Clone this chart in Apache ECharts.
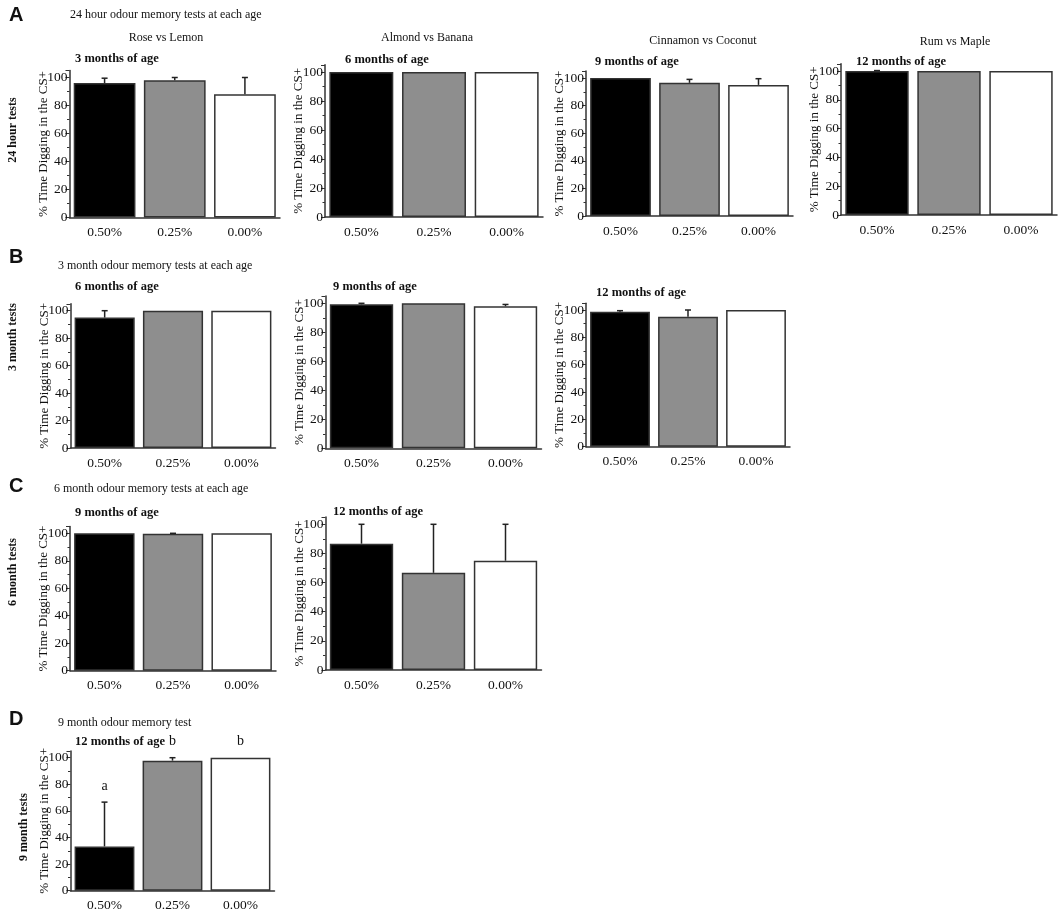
<!DOCTYPE html>
<html><head><meta charset="utf-8">
<script src="https://cdn.jsdelivr.net/npm/echarts@6/dist/echarts.min.js"></script>
<style>html,body{margin:0;padding:0;background:#fff}#c{width:1063px;height:912px}</style>
</head><body><div id="c"></div>
<script>
// ---- data ----
const categories = ['0.50%', '0.25%', '0.00%'];
const yTicks = [0, 20, 40, 60, 80, 100];
const barColors = ['#000000', '#8e8e8e', '#ffffff'];
// means (% time digging in the CS+) and upper error (SEM)
const a1Mean = [96, 98, 88],      a1Err = [3.5, 2, 12];
const a2Mean = [100, 100, 100],   a2Err = [0, 0, 0];
const a3Mean = [100, 96.5, 95],   a3Err = [0, 2.5, 4.5];
const a4Mean = [100, 100, 100],   a4Err = [0.3, 0, 0];
const b1Mean = [95, 100, 100],    b1Err = [5, 0, 0];
const b2Mean = [99.3, 100, 98],   b2Err = [0.7, 0, 1.2];
const b3Mean = [98.8, 95, 100],   b3Err = [0.7, 5, 0];
const c1Mean = [100, 99.6, 100],  c1Err = [0, 0.4, 0];
const c2Mean = [86.7, 66.7, 75],  c2Err = [13.3, 33.3, 25];
const d1Mean = [33.3, 97.8, 100], d1Err = [33.3, 2.2, 0];
const d1Letters = ['a', 'b', 'b'];

// ---- layout (pixels): left, width, y of 0, y of 100 ----
const panels = [
  {mean: a1Mean, err: a1Err, left: 69.5, width: 210.5, y0: 217.5, y100: 77.5},
  {mean: a2Mean, err: a2Err, left: 325,  width: 218,   y0: 217,   y100: 72},
  {mean: a3Mean, err: a3Err, left: 586,  width: 207,   y0: 216,   y100: 78},
  {mean: a4Mean, err: a4Err, left: 841,  width: 216,   y0: 215,   y100: 71},
  {mean: b1Mean, err: b1Err, left: 70.5, width: 205,   y0: 448,   y100: 310.7},
  {mean: b2Mean, err: b2Err, left: 325.5,width: 216,   y0: 448.3, y100: 303.3},
  {mean: b3Mean, err: b3Err, left: 586,  width: 204,   y0: 446.7, y100: 310},
  {mean: c1Mean, err: c1Err, left: 70,   width: 206,   y0: 670.7, y100: 533.3},
  {mean: c2Mean, err: c2Err, left: 325.5,width: 216,   y0: 670,   y100: 524.3},
  {mean: d1Mean, err: d1Err, left: 70.5, width: 204,   y0: 890.7, y100: 757.7, letters: d1Letters}
];

const SERIF = 'Liberation Serif';
const AX = '#333';
const grids = [], xAxes = [], yAxes = [], series = [];
const YMAX = 105;

panels.forEach((p, k) => {
  const h = (p.y0 - p.y100) * YMAX / 100;
  grids.push({left: p.left, top: p.y0 - h, width: p.width, height: h, containLabel: false, outerBoundsMode: 'none'});
  xAxes.push({
    gridIndex: k, type: 'category', data: categories,
    axisLine: {lineStyle: {color: AX, width: 1.5}},
    axisTick: {alignWithLabel: true, length: 3, lineStyle: {color: AX}},
    axisLabel: {fontFamily: SERIF, fontSize: 13.5, color: '#111', margin: 8}
  });
  yAxes.push({
    gridIndex: k, type: 'value', min: yTicks[0], max: YMAX, interval: yTicks[1] - yTicks[0],
    name: '% Time Digging in the CS+', nameLocation: 'middle', nameGap: 19.5, nameMoveOverlap: false,
    nameTextStyle: {fontFamily: SERIF, fontSize: 13, color: '#111'},
    axisLine: {show: true, lineStyle: {color: AX, width: 1.5}},
    axisTick: {show: true, length: 4, lineStyle: {color: AX}},
    minorTick: {show: true, splitNumber: 2, length: 2.5, lineStyle: {color: AX}},
    splitLine: {show: false},
    axisLabel: {fontFamily: SERIF, fontSize: 13.5, color: '#111', margin: 2, showMaxLabel: false,
      formatter: v => (yTicks.indexOf(v) >= 0 ? String(v) : '')}
  });
  series.push({
    type: 'bar', xAxisIndex: k, yAxisIndex: k, barCategoryGap: '12%',
    data: p.mean.map((v, i) => ({value: v, itemStyle: {color: barColors[i], borderColor: '#333', borderWidth: 1.5}})),
    silent: true, animation: false
  });
  const letters = p.letters;
  series.push({
    type: 'custom', xAxisIndex: k, yAxisIndex: k, z: 5, animation: false, silent: true,
    data: p.mean.map((v, i) => [i, v, p.err[i]]),
    encode: {x: 0, y: 1},
    renderItem: (params, api) => {
      const i = api.value(0), v = api.value(1), e = api.value(2);
      const b = api.coord([i, v]);
      const t = api.coord([i, v + e]);
      const ch = [];
      if (e > 0) {
        ch.push({type: 'line', shape: {x1: b[0], y1: b[1], x2: t[0], y2: t[1]}, style: {stroke: '#222', lineWidth: 1.5}});
        ch.push({type: 'line', shape: {x1: t[0] - 3, y1: t[1], x2: t[0] + 3, y2: t[1]}, style: {stroke: '#222', lineWidth: 1.5}});
      }
      if (letters) {
        ch.push({type: 'text', x: t[0], y: t[1] - 9, style: {text: letters[params.dataIndex], fontFamily: SERIF, fontSize: 14, fill: '#111', align: 'center', verticalAlign: 'bottom'}});
      }
      return {type: 'group', children: ch};
    }
  });
});

function txt(x, y, s, opt) {
  return {type: 'text', x: x, y: y, style: Object.assign({text: s, fontFamily: SERIF, fontSize: 12, fill: '#111', align: 'left', verticalAlign: 'middle'}, opt || {})};
}
function rot(x, y, s) {
  return {type: 'text', x: x, y: y, rotation: Math.PI / 2, style: {text: s, fontFamily: SERIF, fontSize: 12, fontWeight: 'bold', fill: '#111', align: 'center', verticalAlign: 'middle'}};
}
const bold = {fontWeight: 'bold', fontSize: 12.5};
const panelLetter = {fontFamily: 'Liberation Sans', fontWeight: 'bold', fontSize: 20};
const graphics = [
  txt(9, 15, 'A', panelLetter),
  txt(70, 15, '24 hour odour memory tests at each age'),
  txt(166, 38, 'Rose vs Lemon', {align: 'center'}),
  txt(427, 38, 'Almond vs Banana', {align: 'center'}),
  txt(703, 41, 'Cinnamon vs Coconut', {align: 'center'}),
  txt(955, 42, 'Rum vs Maple', {align: 'center'}),
  txt(75, 59, '3 months of age', bold),
  txt(345, 60, '6 months of age', bold),
  txt(595, 62, '9 months of age', bold),
  txt(856, 62, '12 months of age', bold),
  rot(13, 130, '24 hour tests'),

  txt(9, 257, 'B', panelLetter),
  txt(58, 266, '3 month odour memory tests at each age'),
  txt(75, 287, '6 months of age', bold),
  txt(333, 287, '9 months of age', bold),
  txt(596, 293, '12 months of age', bold),
  rot(13, 337, '3 month tests'),

  txt(9, 486, 'C', panelLetter),
  txt(54, 489, '6 month odour memory tests at each age'),
  txt(75, 513, '9 months of age', bold),
  txt(333, 512, '12 months of age', bold),
  rot(13, 572, '6 month tests'),

  txt(9, 719, 'D', panelLetter),
  txt(58, 723, '9 month odour memory test'),
  txt(75, 742, '12 months of age', bold),
  rot(24, 827, '9 month tests')
];

const chart = echarts.init(document.getElementById('c'), null, {renderer: 'canvas'});
chart.setOption({
  backgroundColor: '#fff', animation: false,
  grid: grids, xAxis: xAxes, yAxis: yAxes, series: series,
  graphic: graphics
});
</script></body></html>
